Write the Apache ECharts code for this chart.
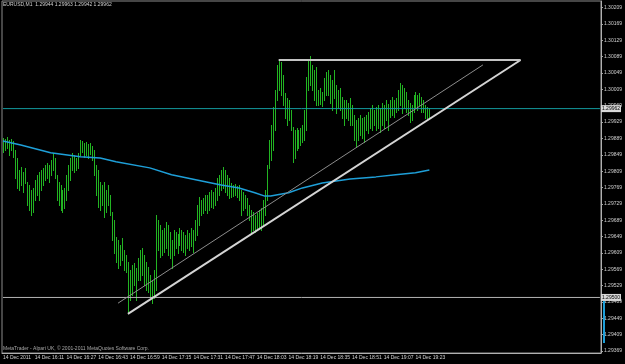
<!DOCTYPE html>
<html>
<head>
<meta charset="utf-8">
<script src="https://cdn.jsdelivr.net/npm/echarts@6/dist/echarts.min.js"></script>
<style>
  html, body { margin: 0; padding: 0; background: #000; }
  #chart { width: 625px; height: 364px; }
</style>
</head>
<body>
<div id="chart"></div>
<script>
// EURUSD M1, one bar per minute from 14 Dec 15:55
const highs = [
  1.29890, 1.29888, 1.29893, 1.29885, 1.29888, 1.29883, 1.29861, 1.29841, 1.29812, 1.29819,
  1.29807, 1.29817, 1.29783, 1.29775, 1.29763, 1.29768, 1.29788, 1.29800, 1.29807, 1.29812,
  1.29817, 1.29824, 1.29829, 1.29824, 1.29837, 1.29854, 1.29841, 1.29800, 1.29783, 1.29775,
  1.29763, 1.29768, 1.29800, 1.29824, 1.29841, 1.29854, 1.29849, 1.29841, 1.29854, 1.29885,
  1.29883, 1.29878, 1.29881, 1.29876, 1.29878, 1.29871, 1.29861, 1.29824, 1.29812, 1.29783,
  1.29775, 1.29783, 1.29763, 1.29775, 1.29751, 1.29709, 1.29690, 1.29648, 1.29641, 1.29629,
  1.29646, 1.29616, 1.29604, 1.29587, 1.29567, 1.29580, 1.29585, 1.29572, 1.29597, 1.29616,
  1.29621, 1.29604, 1.29587, 1.29575, 1.29555, 1.29543, 1.29567, 1.29702, 1.29690, 1.29677,
  1.29665, 1.29670, 1.29685, 1.29677, 1.29660, 1.29641, 1.29665, 1.29660, 1.29656, 1.29670,
  1.29665, 1.29660, 1.29653, 1.29665, 1.29658, 1.29670, 1.29665, 1.29690, 1.29726, 1.29746,
  1.29739, 1.29744, 1.29751, 1.29751, 1.29758, 1.29763, 1.29758, 1.29768, 1.29793, 1.29800,
  1.29812, 1.29819, 1.29812, 1.29800, 1.29793, 1.29780, 1.29775, 1.29778, 1.29773, 1.29775,
  1.29763, 1.29758, 1.29751, 1.29744, 1.29726, 1.29714, 1.29709, 1.29702, 1.29707, 1.29714,
  1.29719, 1.29739, 1.29763, 1.29824, 1.29885, 1.29922, 1.29966, 1.30008, 1.30069, 1.30081,
  1.30076, 1.30045, 1.30000, 1.29988, 1.29983, 1.29959, 1.29917, 1.29910, 1.29915, 1.29910,
  1.29915, 1.29922, 1.29959, 1.30040, 1.30081, 1.30091, 1.30069, 1.30057, 1.30064, 1.30008,
  1.30013, 1.30003, 1.30037, 1.30052, 1.30057, 1.30045, 1.30032, 1.30057, 1.30020, 1.30008,
  1.30013, 1.29991, 1.29983, 1.29983, 1.29976, 1.29988, 1.29971, 1.29947, 1.29934, 1.29939,
  1.29947, 1.29939, 1.29942, 1.29947, 1.29954, 1.29964, 1.29971, 1.29959, 1.29966, 1.29971,
  1.29964, 1.29976, 1.29971, 1.29983, 1.29974, 1.29983, 1.29991, 1.29983, 1.29988, 1.30008,
  1.30025, 1.30020, 1.30013, 1.30003, 1.29983, 1.29976, 1.29971, 1.29996, 1.30003, 1.29996,
  1.30000, 1.29991, 1.29983, 1.29971, 1.29966, 1.29963
];
const lows = [
  1.29856, 1.29861, 1.29866, 1.29849, 1.29861, 1.29844, 1.29793, 1.29768, 1.29763, 1.29775,
  1.29758, 1.29780, 1.29726, 1.29714, 1.29702, 1.29709, 1.29739, 1.29751, 1.29739, 1.29763,
  1.29775, 1.29788, 1.29793, 1.29783, 1.29800, 1.29812, 1.29793, 1.29739, 1.29726, 1.29714,
  1.29709, 1.29719, 1.29739, 1.29763, 1.29788, 1.29812, 1.29807, 1.29812, 1.29817, 1.29849,
  1.29856, 1.29844, 1.29849, 1.29841, 1.29851, 1.29837, 1.29800, 1.29751, 1.29722, 1.29714,
  1.29726, 1.29697, 1.29709, 1.29726, 1.29702, 1.29641, 1.29609, 1.29587, 1.29572, 1.29580,
  1.29592, 1.29567, 1.29563, 1.29462, 1.29494, 1.29506, 1.29531, 1.29494, 1.29543, 1.29543,
  1.29555, 1.29531, 1.29518, 1.29514, 1.29501, 1.29487, 1.29499, 1.29518, 1.29616, 1.29599,
  1.29604, 1.29612, 1.29621, 1.29604, 1.29597, 1.29572, 1.29604, 1.29621, 1.29609, 1.29629,
  1.29616, 1.29612, 1.29604, 1.29621, 1.29616, 1.29626, 1.29612, 1.29641, 1.29653, 1.29677,
  1.29702, 1.29707, 1.29714, 1.29707, 1.29714, 1.29722, 1.29719, 1.29726, 1.29739, 1.29751,
  1.29763, 1.29768, 1.29758, 1.29751, 1.29744, 1.29746, 1.29748, 1.29751, 1.29746, 1.29739,
  1.29702, 1.29714, 1.29719, 1.29702, 1.29690, 1.29658, 1.29665, 1.29660, 1.29665, 1.29670,
  1.29665, 1.29677, 1.29702, 1.29739, 1.29817, 1.29837, 1.29861, 1.29910, 1.29983, 1.30008,
  1.29996, 1.29971, 1.29939, 1.29922, 1.29934, 1.29910, 1.29832, 1.29841, 1.29861, 1.29866,
  1.29873, 1.29881, 1.29885, 1.29910, 1.30008, 1.30020, 1.30008, 1.29983, 1.29971, 1.29971,
  1.29974, 1.29969, 1.29983, 1.29996, 1.29996, 1.29976, 1.29959, 1.29988, 1.29952, 1.29964,
  1.29959, 1.29939, 1.29922, 1.29939, 1.29934, 1.29922, 1.29922, 1.29885, 1.29868, 1.29885,
  1.29898, 1.29890, 1.29881, 1.29910, 1.29903, 1.29915, 1.29910, 1.29922, 1.29910, 1.29915,
  1.29905, 1.29922, 1.29915, 1.29934, 1.29910, 1.29942, 1.29947, 1.29942, 1.29954, 1.29959,
  1.29971, 1.29952, 1.29964, 1.29954, 1.29947, 1.29930, 1.29934, 1.29954, 1.29964, 1.29959,
  1.29971, 1.29954, 1.29954, 1.29939, 1.29934, 1.29942
];
// moving average, read at some bars: [bar index, price]
const maPoints = [
  [0, 1.29883], [9, 1.29873], [24, 1.29854], [39, 1.29844], [49, 1.29841], [57, 1.29832],
  [74, 1.29817], [85, 1.29800], [102, 1.29783], [110, 1.29775], [119, 1.29768], [127, 1.29756],
  [132, 1.29748], [135, 1.29748], [144, 1.29756], [151, 1.29768], [161, 1.29780], [175, 1.29790],
  [188, 1.29795], [198, 1.29800], [208, 1.29805], [215, 1.29812]
];
// drawn objects
const trendMain = [[63, 1.29460], [261, 1.30081]];
const trendThin = [[58, 1.29486], [242, 1.30069]];
const topLine = [[139, 1.30081], [261, 1.30081]];
const bidPrice = 1.29962;
const levelPrice = 1.29500;

const timeLabels = [
  '14 Dec 2011', '14 Dec 16:11', '14 Dec 16:27', '14 Dec 16:43', '14 Dec 16:59',
  '14 Dec 17:15', '14 Dec 17:31', '14 Dec 17:47', '14 Dec 18:03', '14 Dec 18:19',
  '14 Dec 18:35', '14 Dec 18:51', '14 Dec 19:07', '14 Dec 19:23'
];
const yTicks = [
  1.29369, 1.29409, 1.29449, 1.29489, 1.29529, 1.29569, 1.29609, 1.29649, 1.29689, 1.29729, 1.29769,
  1.29809, 1.29849, 1.29889, 1.29929, 1.29969, 1.30009, 1.30049, 1.30089, 1.30129, 1.30169, 1.30209
];

const slotCount = 302; // chart shift leaves empty space on the right
const labelStep = 16;
const barColor = '#22b422';
const fontFamily = 'Liberation Sans';

const categories = [];
for (let i = 0; i < slotCount; i++) categories.push(String(i));

const chart = echarts.init(document.getElementById('chart'));

// full-width horizontal line with its price box on the scale
function priceLine (price, color) {
  return {
    type: 'line',
    data: [[0, price], [slotCount - 1, price]],
    showSymbol: false,
    silent: true,
    lineStyle: { color: color, width: 1 },
    endLabel: {
      show: true,
      distance: 1,
      formatter: price.toFixed(5),
      backgroundColor: '#d8d8d8',
      color: '#000',
      fontSize: 5,
      fontFamily,
      padding: [1, 1]
    },
    z: 3
  };
}

const option = {
  animation: false,
  backgroundColor: '#000',
  title: [
    {
      text: 'EURUSD,M1  1.29944 1.29963 1.29942 1.29962',
      left: 3, top: 2, padding: 0,
      textStyle: { color: '#d0d0d0', fontSize: 5, fontWeight: 'normal', fontFamily }
    },
    {
      text: 'MetaTrader - Alpari UK, © 2001-2011 MetaQuotes Software Corp.',
      left: 3, top: 346, padding: 0,
      textStyle: { color: '#a8a8a8', fontSize: 5, fontWeight: 'normal', fontFamily }
    }
  ],
  grid: {
    left: 1, right: 21, top: 1, bottom: 11,
    show: true, borderColor: '#8c8c8c', borderWidth: 1, backgroundColor: '#000'
  },
  xAxis: {
    type: 'category',
    data: categories,
    boundaryGap: true,
    axisLine: { lineStyle: { color: '#b0b0b0' } },
    axisTick: {
      length: 3,
      lineStyle: { color: '#b0b0b0' },
      interval: (idx) => idx % labelStep === 0 && idx / labelStep < timeLabels.length
    },
    axisLabel: {
      interval: labelStep - 1,
      align: 'left',
      margin: 2,
      color: '#d0d0d0',
      fontSize: 5,
      fontFamily,
      formatter: (val, idx) => timeLabels[idx / labelStep] || ''
    },
    splitLine: { show: false }
  },
  yAxis: {
    type: 'value',
    position: 'right',
    min: 1.293641,
    max: 1.302253,
    axisLine: { show: true, lineStyle: { color: '#b0b0b0' } },
    axisTick: { show: true, length: 2, customValues: yTicks, lineStyle: { color: '#b0b0b0' } },
    axisLabel: {
      customValues: yTicks,
      margin: 3,
      color: '#d0d0d0',
      fontSize: 5,
      fontFamily,
      formatter: (v) => v.toFixed(5)
    },
    splitLine: { show: false }
  },
  series: [
    {
      type: 'custom',
      name: 'bars',
      data: highs.map((h, i) => [i, lows[i], h]),
      encode: { x: 0, y: [1, 2] },
      renderItem: (params, api) => {
        const lo = api.coord([api.value(0), api.value(1)]);
        const hi = api.coord([api.value(0), api.value(2)]);
        const x = Math.round(lo[0]) + 0.5;
        return {
          type: 'line',
          shape: { x1: x, y1: Math.round(lo[1]) + 1, x2: x, y2: Math.round(hi[1]) },
          style: { stroke: barColor, lineWidth: 1 }
        };
      },
      z: 2
    },
    priceLine(bidPrice, '#139a9e'),
    priceLine(levelPrice, '#b4b4b4'),
    {
      type: 'line',
      name: 'MA',
      data: maPoints,
      showSymbol: false,
      lineStyle: { color: '#1e9fd8', width: 1.5 },
      z: 3
    },
    {
      type: 'line',
      data: trendThin,
      showSymbol: false,
      lineStyle: { color: '#8c8c8c', width: 1 },
      z: 4
    },
    {
      type: 'line',
      data: trendMain,
      showSymbol: false,
      lineStyle: { color: '#d4d4d4', width: 2 },
      z: 4
    },
    {
      type: 'line',
      data: topLine,
      showSymbol: false,
      lineStyle: { color: '#c4c4c4', width: 2 },
      z: 4
    }
  ],
  graphic: [
    // blue marker on the price scale
    { type: 'rect', left: 603, top: 301, shape: { width: 2, height: 42 }, style: { fill: '#1e9fd8' }, z: 10 }
  ]
};

chart.setOption(option);
</script>
</body>
</html>
